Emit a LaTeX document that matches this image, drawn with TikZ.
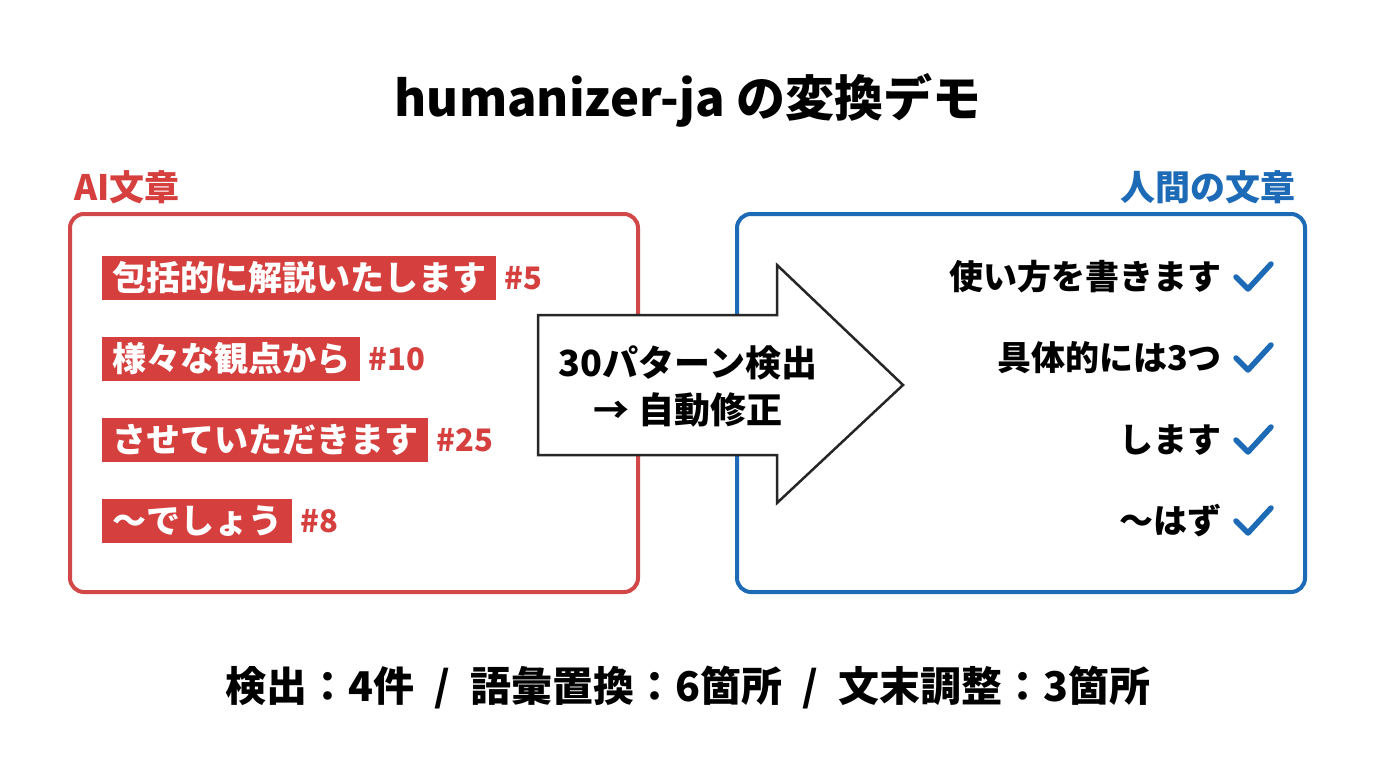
\documentclass[tikz,border=0pt]{standalone}
\usepackage{fontspec}
\setmainfont{Noto Sans CJK JP}
\definecolor{aired}{HTML}{D5403F}
\definecolor{aiedge}{HTML}{D24848}
\definecolor{hublue}{HTML}{1D6AB6}
\tikzset{
  titlefont/.style={font=\fontsize{49}{52}\selectfont\bfseries},
  labelfont/.style={font=\fontsize{35}{38}\selectfont\bfseries},
  rowfont/.style={font=\fontsize{34}{38}\selectfont\bfseries},
  panel/.style={draw, line width=4pt, rounded corners=14pt, minimum width=568pt, minimum height=378pt, inner sep=0pt},
  hilite/.style={rowfont, fill=aired, text=white, anchor=west, inner xsep=10pt, inner ysep=0pt, minimum height=44pt},
  tag/.style={font=\fontsize{31}{34}\selectfont\bfseries, text=aired, anchor=west, inner sep=0pt},
  goodrow/.style={rowfont, text=black, anchor=east, inner sep=0pt},
  checkmark/.style={draw=hublue, line width=5.5pt, line cap=round, line join=round},
}
\begin{document}
\begin{tikzpicture}[x=1pt,y=-1pt]
\useasboundingbox[fill=white] (0,0) rectangle (1376,768);
% title
\node[titlefont] (title) at (688,100) {humanizer-ja の変換デモ};
% left panel
\node[panel, draw=aiedge] (aibox) at (354,403) {};
\node[labelfont, text=aired, anchor=west, inner sep=0pt] (ailabel) at (74,187) {AI文章};
\node[hilite] (r1) at (102,278) {包括的に解説いたします};
\node[tag] (t1) at ([xshift=8pt]r1.east) {\#5};
\node[hilite] (r2) at (102,359) {様々な観点から};
\node[tag] (t2) at ([xshift=8pt]r2.east) {\#10};
\node[hilite] (r3) at (102,440) {させていただきます};
\node[tag] (t3) at ([xshift=8pt]r3.east) {\#25};
\node[hilite] (r4) at (102,521) {〜でしょう};
\node[tag] (t4) at ([xshift=8pt]r4.east) {\#8};
% right panel
\node[panel, draw=hublue] (hubox) at (1021,403) {};
\node[labelfont, text=hublue, anchor=east, inner sep=0pt] (hulabel) at (1296,187) {人間の文章};
\node[goodrow] (g1) at (1222,277) {使い方を書きます};
\node[goodrow] (g2) at (1222,358) {具体的には3つ};
\node[goodrow] (g3) at (1222,440) {します};
\node[goodrow] (g4) at (1222,521) {〜はず};
\foreach \n in {g1,g2,g3,g4}{
  \draw[checkmark] ([xshift=14pt,yshift=0pt]\n.east) -- ++(12,12) -- ++(23,-25);
}
% arrow
\draw[fill=white, draw=black!85, line width=2.5pt, line join=miter]
  (538,315) -- (777,315) -- (777,265) -- (903,385) -- (777,503) -- (777,455) -- (538,455) -- cycle;
\node[font=\fontsize{36}{47}\selectfont\bfseries, align=center] (arrtxt) at (688,386) {30パターン検出\\→ 自動修正};
% bottom summary
\node[font=\fontsize{41}{44}\selectfont\bfseries] (summary) at (688,688)
  {検出：4件\hspace{20pt}/\hspace{20pt}語彙置換：6箇所\hspace{20pt}/\hspace{20pt}文末調整：3箇所};
\end{tikzpicture}
\end{document}
